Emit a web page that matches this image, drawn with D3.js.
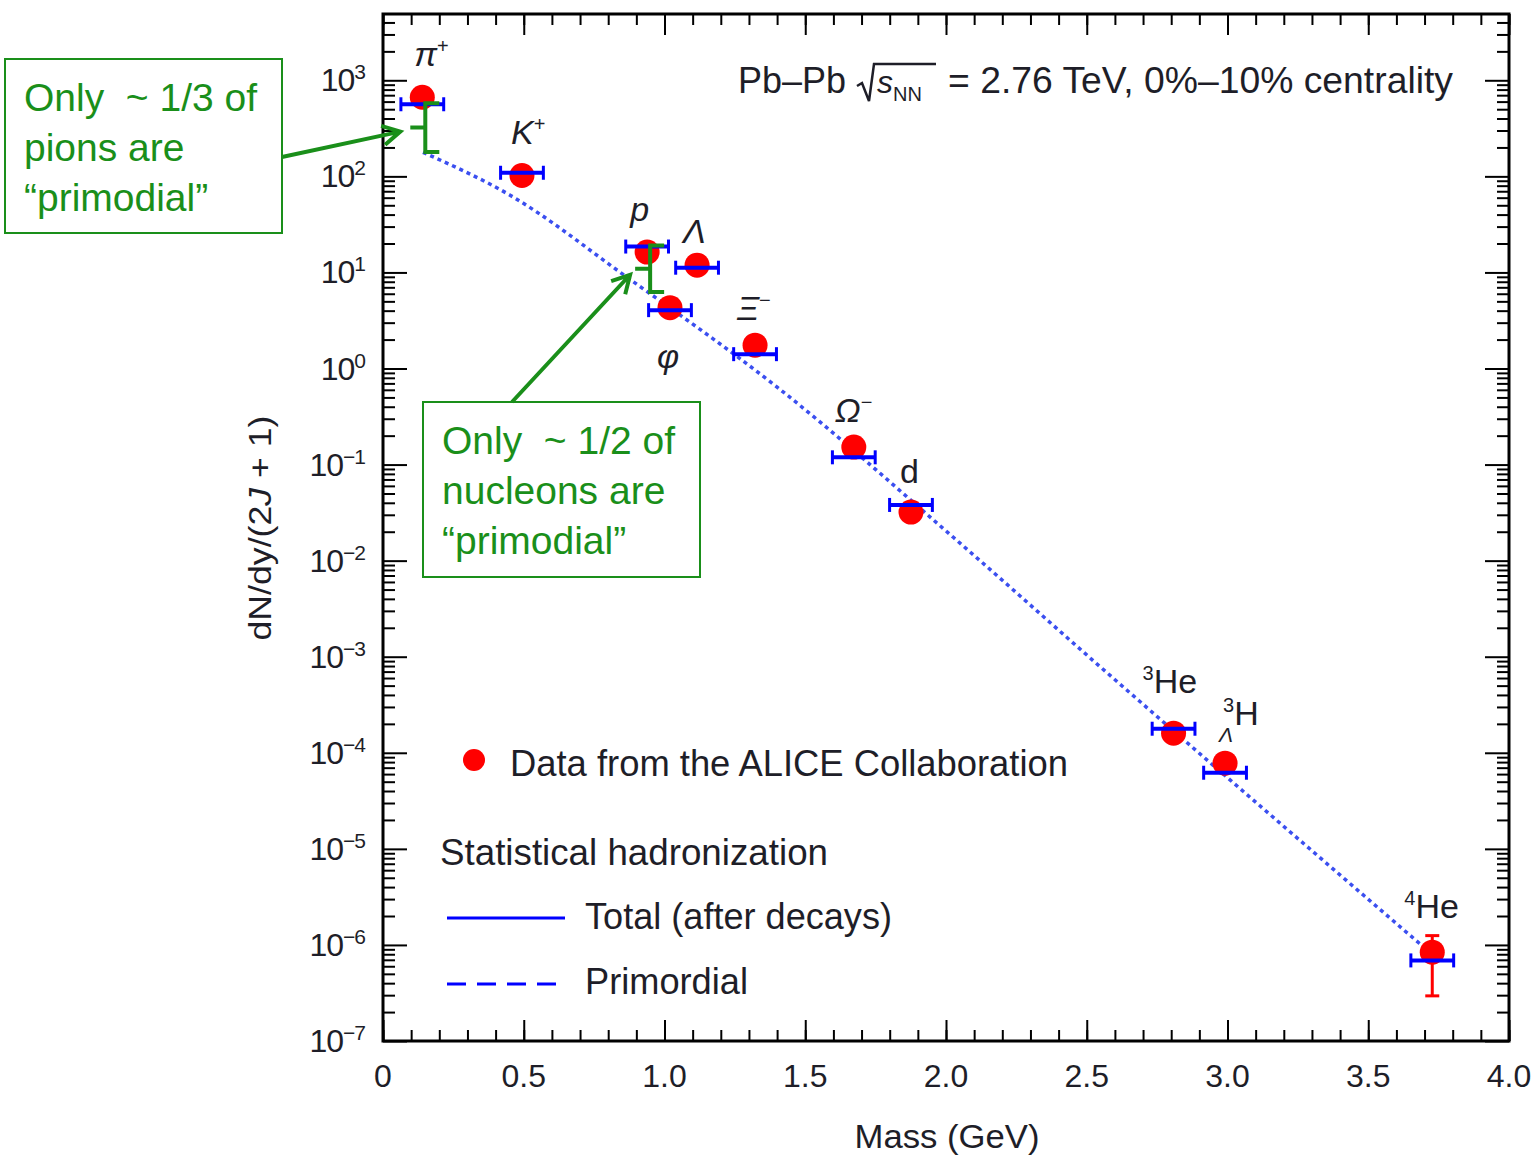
<!DOCTYPE html>
<html>
<head>
<meta charset="utf-8">
<script src="https://cdn.jsdelivr.net/npm/d3@7"></script>
<style>
  body { margin: 0; background: #fff; }
  text { font-family: "Liberation Sans", Arial, sans-serif; }
</style>
</head>
<body>
<script>
// particles, masses (GeV) and yields dN/dy/(2J+1)
var particles = ["π+", "K+", "p", "Λ", "φ", "Ξ−", "Ω−", "d", "3He", "3ΛH", "4He"];
var masses = [0.1396, 0.4937, 0.9383, 1.1157, 1.0195, 1.3217, 1.6725, 1.8756, 2.8084, 2.9913, 3.7274];
var dataYield = [666, 102, 16.3, 11.9, 4.3, 1.75, 0.152, 0.032, 1.6e-4, 7.8e-5, 8.4e-7];
var dataErrLow = [null, null, null, null, null, null, null, null, null, null, 2.95e-7];
var dataErrHigh = [null, null, null, null, null, null, null, null, null, null, 1.25e-6];
var modelTotal = [563, 109, 18.6, 11.2, 4.05, 1.41, 0.119, 0.038, 1.78e-4, 6.2e-5, 6.9e-7];

// primordial curve of the statistical hadronization model
var primordialMass = [0.142, 0.45, 0.867, 1.40, 2.026, 2.549, 3.697];
var primordialYield = [178, 64, 8.9, 0.64, 0.0175, 7.8e-4, 9.5e-7];

var xTicks = [0, 0.5, 1.0, 1.5, 2.0, 2.5, 3.0, 3.5, 4.0];
var xTickLabels = ["0", "0.5", "1.0", "1.5", "2.0", "2.5", "3.0", "3.5", "4.0"];
var yExponents = [3, 2, 1, 0, -1, -2, -3, -4, -5, -6, -7];

// label placement relative to the data point (pixels) and label pieces
var labelShift = [[-8, -31], [-11, -32], [-17, -31], [-14, -22], [-13, 60], [-18, -25],
                  [-19, -25], [-11, -29], [-31, -40], [-2, -38], [-28, -34]];
var labelParts = [
  [{ t: "π", it: 1 }, { t: "+", sup: 1 }],
  [{ t: "K", it: 1 }, { t: "+", sup: 1 }],
  [{ t: "p", it: 1 }],
  [{ t: "Λ", it: 1 }],
  [{ t: "φ", it: 1 }],
  [{ t: "Ξ", it: 1 }, { t: "−", sup: 1 }],
  [{ t: "Ω", it: 1 }, { t: "−", sup: 1 }],
  [{ t: "d" }],
  [{ t: "3", pre: 1 }, { t: "He" }],
  [{ t: "3", pre: 1 }, { t: "H" }],
  [{ t: "4", pre: 1 }, { t: "He" }]
];

var W = 1532, H = 1159;
var green = "#1a8f1a";
var blue = "#0000ff";
var ink = "#1e1e28";

var svg = d3.select("body").append("svg")
  .attr("width", W)
  .attr("height", H);

var x = d3.scaleLinear().domain([0, 4.0]).range([383, 1509]);
var y = d3.scaleLog().domain([1e-7, Math.pow(10, 3.69)]).range([1041, 14]);

// ticks
var majorY = yExponents.map(function(e) { return Math.pow(10, e); });
var minorY = [];
for (var e = -7; e <= 3; e++) {
  for (var m = 2; m <= 9; m++) {
    if (m * Math.pow(10, e) < y.domain()[1]) minorY.push(m * Math.pow(10, e));
  }
}
var minorX = d3.range(0, 41).map(function(i) { return i / 10; });

function tickAxis(axis, pos, vals, size) {
  var g = svg.append("g").attr("transform", pos)
    .call(axis.tickValues(vals).tickSize(-size).tickFormat(""));
  g.select(".domain").remove();
  g.selectAll("line").attr("stroke", "#000").attr("stroke-width", 2);
}
tickAxis(d3.axisLeft(y), "translate(383,0)", minorY, 12);
tickAxis(d3.axisLeft(y), "translate(383,0)", majorY, 24);
tickAxis(d3.axisRight(y), "translate(1509,0)", minorY, 12);
tickAxis(d3.axisRight(y), "translate(1509,0)", majorY, 24);
tickAxis(d3.axisBottom(x), "translate(0,1041)", minorX, 11);
tickAxis(d3.axisBottom(x), "translate(0,1041)", xTicks, 21);
tickAxis(d3.axisTop(x), "translate(0,14)", minorX, 11);
tickAxis(d3.axisTop(x), "translate(0,14)", xTicks, 21);

// frame
svg.append("rect")
  .attr("x", x(0)).attr("y", y.range()[1])
  .attr("width", x(4) - x(0)).attr("height", y.range()[0] - y.range()[1])
  .attr("fill", "none").attr("stroke", "#000").attr("stroke-width", 3);

// tick labels
svg.selectAll("text.xl").data(xTicks).enter().append("text")
  .attr("class", "xl")
  .attr("x", function(d) { return x(d); })
  .attr("y", 1087)
  .attr("text-anchor", "middle")
  .attr("font-size", 32)
  .attr("fill", ink)
  .text(function(d, i) { return xTickLabels[i]; });

var yl = svg.selectAll("text.yl").data(yExponents).enter().append("text")
  .attr("class", "yl")
  .attr("x", 365)
  .attr("y", function(d) { return y(Math.pow(10, d)) + 11; })
  .attr("text-anchor", "end")
  .attr("font-size", 32)
  .attr("letter-spacing", -1)
  .attr("fill", ink);
yl.append("tspan").text("10");
yl.append("tspan").attr("dy", -12).attr("font-size", 21)
  .text(function(d) { return d < 0 ? "−" + (-d) : String(d); });

// axis titles
svg.append("text")
  .attr("x", 947).attr("y", 1148)
  .attr("text-anchor", "middle")
  .attr("font-size", 33)
  .attr("fill", ink)
  .attr("textLength", 185).attr("lengthAdjust", "spacingAndGlyphs")
  .text("Mass (GeV)");

var yt = svg.append("text")
  .attr("transform", "translate(271,528) rotate(-90)")
  .attr("text-anchor", "middle")
  .attr("font-size", 32)
  .attr("fill", ink)
  .attr("textLength", 225).attr("lengthAdjust", "spacingAndGlyphs");
yt.append("tspan").text("dN/dy/(2");
yt.append("tspan").attr("font-style", "italic").text("J");
yt.append("tspan").text(" + 1)");

// primordial curve (dotted)
var line = d3.line()
  .x(function(d) { return x(d[0]); })
  .y(function(d) { return y(d[1]); })
  .curve(d3.curveMonotoneX);
svg.append("path")
  .datum(primordialMass.map(function(m, i) { return [m, primordialYield[i]]; }))
  .attr("d", line)
  .attr("fill", "none")
  .attr("stroke", "#3b4ff0")
  .attr("stroke-width", 3.5)
  .attr("stroke-dasharray", "4,4");

// data points
var pts = masses.map(function(m, i) {
  return { m: m, v: dataYield[i], tot: modelTotal[i], lo: dataErrLow[i], hi: dataErrHigh[i], i: i };
});

svg.selectAll("circle.dat").data(pts).enter().append("circle")
  .attr("class", "dat")
  .attr("cx", function(d) { return x(d.m); })
  .attr("cy", function(d) { return y(d.v); })
  .attr("r", 12.5)
  .attr("fill", "#ff0000");

// 4He error bar
var eb = svg.selectAll("g.err").data(pts.filter(function(d) { return d.lo !== null; }))
  .enter().append("g").attr("class", "err")
  .attr("stroke", "#ff0000").attr("stroke-width", 3);
eb.append("line")
  .attr("x1", function(d) { return x(d.m); }).attr("x2", function(d) { return x(d.m); })
  .attr("y1", function(d) { return y(d.lo); }).attr("y2", function(d) { return y(d.hi); });
eb.selectAll("line.cap").data(function(d) { return [[d.m, d.lo], [d.m, d.hi]]; })
  .enter().append("line").attr("class", "cap")
  .attr("x1", function(d) { return x(d[0]) - 7; }).attr("x2", function(d) { return x(d[0]) + 7; })
  .attr("y1", function(d) { return y(d[1]); }).attr("y2", function(d) { return y(d[1]); });

// model totals as horizontal bars with end caps
var hw = 0.076;
var tb = svg.selectAll("g.tot").data(pts).enter().append("g").attr("class", "tot")
  .attr("stroke", blue).attr("stroke-width", 4);
tb.append("line")
  .attr("x1", function(d) { return x(d.m - hw); }).attr("x2", function(d) { return x(d.m + hw); })
  .attr("y1", function(d) { return y(d.tot); }).attr("y2", function(d) { return y(d.tot); });
tb.selectAll("line.cap").data(function(d) { return [d.m - hw, d.m + hw].map(function(v) { return [v, d.tot]; }); })
  .enter().append("line").attr("class", "cap")
  .attr("stroke-width", 3)
  .attr("x1", function(d) { return x(d[0]); }).attr("x2", function(d) { return x(d[0]); })
  .attr("y1", function(d) { return y(d[1]) - 7; }).attr("y2", function(d) { return y(d[1]) + 7; });

// particle labels
pts.forEach(function(d) {
  var sx = x(d.m) + labelShift[d.i][0];
  var sy = y(d.v) + labelShift[d.i][1];
  var t = svg.append("text")
    .attr("x", sx).attr("y", sy)
    .attr("font-size", 34)
    .attr("fill", ink);
  var raised = false;
  labelParts[d.i].forEach(function(p) {
    var s = t.append("tspan").text(p.t);
    if (p.it) s.attr("font-style", "italic");
    if (p.sup || p.pre) {
      s.attr("font-size", 20).attr("dy", -13);
      raised = true;
    } else if (raised) {
      s.attr("dy", 13);
      raised = false;
    }
  });
  if (particles[d.i] === "3ΛH") {
    svg.append("text")
      .attr("x", sx - 4).attr("y", sy + 17)
      .attr("font-size", 21).attr("font-style", "italic")
      .attr("fill", ink)
      .text("Λ");
  }
});

// header
svg.append("text")
  .attr("x", 738).attr("y", 93)
  .attr("font-size", 36).attr("fill", ink)
  .attr("textLength", 108).attr("lengthAdjust", "spacingAndGlyphs")
  .text("Pb–Pb");
svg.append("path")
  .attr("d", "M857,86 L862,83 L869,101 L874,64 L936,64")
  .attr("fill", "none").attr("stroke", ink).attr("stroke-width", 2.5);
var sn = svg.append("text")
  .attr("x", 877).attr("y", 93)
  .attr("font-size", 32).attr("fill", ink);
sn.append("tspan").attr("font-style", "italic").text("s");
sn.append("tspan").attr("font-size", 20).attr("dy", 8).text("NN");
svg.append("text")
  .attr("x", 948).attr("y", 93)
  .attr("font-size", 36).attr("fill", ink)
  .attr("textLength", 505).attr("lengthAdjust", "spacingAndGlyphs")
  .text("= 2.76 TeV, 0%–10% centrality");

// legend
svg.append("circle").attr("cx", 474).attr("cy", 760).attr("r", 11).attr("fill", "#ff0000");
svg.append("text")
  .attr("x", 510).attr("y", 776)
  .attr("font-size", 37).attr("fill", ink)
  .attr("textLength", 558).attr("lengthAdjust", "spacingAndGlyphs")
  .text("Data from the ALICE Collaboration");
svg.append("text")
  .attr("x", 440).attr("y", 865)
  .attr("font-size", 37).attr("fill", ink)
  .attr("textLength", 388).attr("lengthAdjust", "spacingAndGlyphs")
  .text("Statistical hadronization");
svg.append("line")
  .attr("x1", 447).attr("x2", 565).attr("y1", 918).attr("y2", 918)
  .attr("stroke", blue).attr("stroke-width", 3);
svg.append("text")
  .attr("x", 585).attr("y", 929)
  .attr("font-size", 37).attr("fill", ink)
  .attr("textLength", 307).attr("lengthAdjust", "spacingAndGlyphs")
  .text("Total (after decays)");
svg.append("line")
  .attr("x1", 447).attr("x2", 556).attr("y1", 984).attr("y2", 984)
  .attr("stroke", blue).attr("stroke-width", 3)
  .attr("stroke-dasharray", "19,11");
svg.append("text")
  .attr("x", 585).attr("y", 994)
  .attr("font-size", 37).attr("fill", ink)
  .attr("textLength", 163).attr("lengthAdjust", "spacingAndGlyphs")
  .text("Primordial");

// green annotations: brackets between total and primordial values
var primAt = d3.scaleLinear().domain(primordialMass).range(primordialYield.map(Math.log10));
function bracket(i) {
  var bx = x(masses[i]) + 3;
  var top = y(modelTotal[i]) - 1;
  var bot = y(Math.pow(10, primAt(masses[i])));
  var mid = (top + bot) / 2;
  var p = d3.path();
  p.moveTo(bx + 14, top); p.lineTo(bx, top); p.lineTo(bx, bot); p.lineTo(bx + 14, bot);
  p.moveTo(bx, mid); p.lineTo(bx - 15, mid);
  svg.append("path").attr("d", p.toString())
    .attr("fill", "none").attr("stroke", green).attr("stroke-width", 4);
  return [bx - 15, mid];
}
function arrow(x0, y0, x1, y1) {
  var a = Math.atan2(y1 - y0, x1 - x0), L = 20, s = 0.5;
  var p = d3.path();
  p.moveTo(x0, y0); p.lineTo(x1, y1);
  p.moveTo(x1 - L * Math.cos(a - s), y1 - L * Math.sin(a - s));
  p.lineTo(x1, y1);
  p.lineTo(x1 - L * Math.cos(a + s), y1 - L * Math.sin(a + s));
  svg.append("path").attr("d", p.toString())
    .attr("fill", "none").attr("stroke", green).attr("stroke-width", 4)
    .attr("stroke-linejoin", "miter");
}
function noteBox(bx, by, bw, bh, lines) {
  svg.append("rect").attr("x", bx).attr("y", by).attr("width", bw).attr("height", bh)
    .attr("fill", "#fff").attr("stroke", green).attr("stroke-width", 2);
  lines.forEach(function(s, k) {
    svg.append("text")
      .attr("x", bx + 19).attr("y", by + 52 + k * 50)
      .attr("font-family", "Lato, sans-serif")
      .attr("font-size", 39).attr("fill", green)
      .attr("xml:space", "preserve")
      .text(s);
  });
}

var nib1 = bracket(0);
var nib2 = bracket(2);
noteBox(5, 59, 277, 174, ["Only  ~ 1/3 of", "pions are", "“primodial”"]);
arrow(282, 157, nib1[0] - 10, nib1[1] + 4);
noteBox(423, 402, 277, 175, ["Only  ~ 1/2 of", "nucleons are", "“primodial”"]);
arrow(512, 402, nib2[0] - 5, nib2[1] + 6);
</script>
</body>
</html>
